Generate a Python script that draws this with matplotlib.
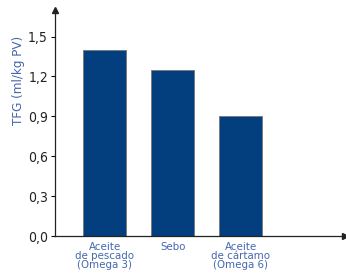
import numpy as np
import matplotlib.pyplot as plt

categorias = ['Aceite\nde pescado\n(Omega 3)', 'Sebo', 'Aceite\nde cártamo\n(Omega 6)']
tfg = [1.40, 1.25, 0.90]
yticks = [0.0, 0.3, 0.6, 0.9, 1.2, 1.5]
ytick_labels = ['0,0', '0,3', '0,6', '0,9', '1,2', '1,5']

plt.rcParams['font.family'] = ['DejaVu Sans']
plt.rcParams['font.stretch'] = 'condensed'

azul = '#033f7f'
azul_texto = '#4566ae'

fig = plt.figure(figsize=(3.46, 2.74), dpi=100)
ax = fig.add_axes([55/346, 38/274, 290/346, 226/274])

x = np.arange(len(tfg))
ax.bar(x, tfg, width=0.63, color=azul, edgecolor='#777777', linewidth=0.6)

ax.set_xlim(-0.73, 3.53)
ax.set_ylim(0, 1.7)
ax.set_yticks(yticks)
ax.set_yticklabels(ytick_labels, fontsize=10, color='#222222')
ax.set_xticks(x)
ax.set_xticklabels(categorias, fontsize=8.2, color=azul_texto, linespacing=0.9)
ax.tick_params(axis='x', length=0, pad=4)
ax.tick_params(axis='y', length=3, width=0.8, pad=2)
ax.set_ylabel('TFG (ml/kg PV)', fontsize=9.5, color=azul_texto)
ax.yaxis.set_label_coords(-30/290, 156/226)

for s in ['top', 'right']:
    ax.spines[s].set_visible(False)
for s in ['left', 'bottom']:
    ax.spines[s].set_linewidth(0.9)
    ax.spines[s].set_color('#222222')

# flechas de los ejes
ax.plot(0, 1, marker='^', color='#222222', markersize=4, transform=ax.transAxes, clip_on=False)
ax.plot(1, 0, marker='>', color='#222222', markersize=4, transform=ax.transAxes, clip_on=False)

fig.savefig('out.png', dpi=100)
